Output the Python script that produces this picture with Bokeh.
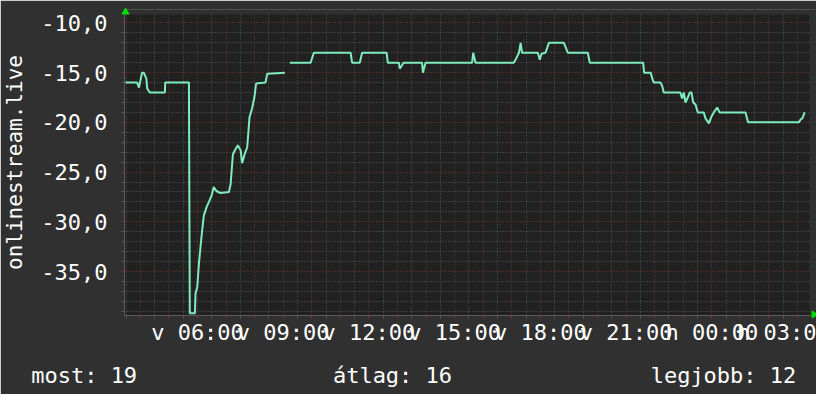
import math
from bokeh.plotting import figure
from bokeh.models import FixedTicker, BoxAnnotation, LinearAxis, Range1d
from bokeh.embed import file_html
from bokeh.resources import INLINE

NaN = float("nan")

# time in hours since Sunday 00:00, signal in dBm
hours = [3.48, 3.89, 3.95, 4.06, 4.12, 4.21, 4.24, 4.33, 4.86, 4.87, 5.70, 5.73,
         5.91, 5.93, 5.99, 6.05, 6.14, 6.22, 6.32, 6.40, 6.49, 6.57, 6.66, 6.80,
         7.10, 7.16, 7.24, 7.33, 7.41, 7.51, 7.56, 7.65, 7.74, 7.82, 7.91, 7.99,
         8.05, 8.38, 8.44, 9.06, 9.10,
         9.23, 9.96, 10.07, 11.36, 11.41, 11.68, 11.76, 12.62, 12.66, 13.05, 13.08,
         13.17, 13.21, 13.86, 13.89, 13.98, 15.61, 15.65, 15.73, 17.07, 17.15,
         17.25, 17.31, 17.36, 17.91, 17.98, 18.04, 18.18, 18.30, 18.82, 18.88,
         18.96, 19.66, 19.73, 21.60, 21.63, 21.86, 21.92, 21.97, 22.20, 22.26,
         22.32, 22.90, 22.96, 23.02, 23.08, 23.16, 23.23, 23.29, 23.35, 23.43,
         23.51, 23.72, 23.78, 23.90, 23.99, 24.07, 24.19, 24.27, 25.18, 25.27,
         27.05, 27.11, 27.17, 27.25]
signal = [-16, -16, -16.5, -15, -15, -15.6, -16.6, -17, -17, -16, -16, -39.2,
          -39.2, -37.2, -36.6, -34.2, -31.5, -29.4, -28.5, -28.0, -27.4, -26.5, -26.9, -27.1,
          -27, -26.2, -23.2, -22.7, -22.3, -22.8, -24.1, -23.2, -22.5, -19.5, -18.6, -17.5,
          -16.1, -16, -15.1, -15, NaN,
          -14, -14, -13, -13, -14, -14, -13, -13, -14, -14, -14.6,
          -14.2, -14, -14, -15, -14, -14, -13, -14, -14, -13.6,
          -13, -12, -13, -13, -13.7, -13.1, -13, -12, -12, -12.4,
          -13, -13, -14, -14, -15, -15, -15.6, -16, -16, -16.3,
          -17, -17, -17.6, -17, -18, -17.5, -17, -17, -18, -18.2,
          -19, -19, -19.6, -20.1, -19.4, -19, -18.5, -19, -19, -20,
          -20, -19.7, -19.6, -19]

x_label_ticks = [6, 9, 12, 15, 18, 21, 24, 27]
# the last label is cut by the right edge of the picture in the original
x_tick_labels = ["v 06:00", "v 09:00", "v 12:00", "v 15:00", "v 18:00",
                 "v 21:00", "h 00:00", "h 03:0"]
y_label_ticks = [-35, -30, -25, -20, -15, -10]
y_tick_labels = ["-35,0", "-30,0", "-25,0", "-20,0", "-15,0", "-10,0"]
legend_names = ["most", "átlag", "legjobb"]
legend_values = [19, 16, 12]
y_title = "onlinestream.live"

# visible graph window
G_X0, G_X1 = 3.445, 27.42
G_Y0, G_Y1 = -39.42, -9.15
# frame is a little larger (room for the axis arrows)
X0, X1 = G_X0, 27.665
Y0, Y1 = G_Y0, -8.65

FONT = "DejaVu Sans Mono"
FS = "22px"
BG = "#303030"
PLOT_BG = "#212121"
LINE = "#7eecbc"
MAJOR = "#7a3434"
MINOR = "#585858"
GREEN = "#00dd00"

W, H = 816, 394
FL, FT, FB = 124, 9, 315   # frame edges in canvas pixels

p = figure(width=W, height=H, x_range=(X0, X1), y_range=(Y0, Y1),
           output_backend="svg", toolbar_location=None,
           min_border_left=FL, min_border_right=0, min_border_top=FT,
           min_border_bottom=H - FB)
p.background_fill_color = PLOT_BG
p.border_fill_color = BG
p.outline_line_color = None

hourly = list(range(4, 28))
half_hourly = [h + 0.5 for h in range(3, 27)]
y_minor = [v for v in range(-39, -9) if v % 5 != 0]
xt = FixedTicker(ticks=hourly, minor_ticks=half_hourly)
yt = FixedTicker(ticks=y_label_ticks, minor_ticks=y_minor)
p.xaxis.ticker = xt
p.yaxis.ticker = yt
p.xgrid.ticker = xt
p.ygrid.ticker = yt

xo = {h: "" for h in hourly}
for t, lab in zip(x_label_ticks, x_tick_labels):
    xo[t] = lab
p.xaxis.major_label_overrides = xo
p.yaxis.major_label_overrides = dict(zip(y_label_ticks, y_tick_labels))

for g in (p.xgrid, p.ygrid):
    g.grid_line_color = MAJOR
    g.grid_line_dash = "1 2"
    g.grid_line_width = 1
    g.minor_grid_line_color = MINOR
    g.minor_grid_line_dash = "1 2"
    g.minor_grid_line_width = 1

def style_axis(ax):
    ax.axis_line_color = None
    ax.major_tick_line_color = MAJOR
    ax.minor_tick_line_color = MINOR
    ax.major_tick_in = 0
    ax.major_tick_out = 3
    ax.minor_tick_in = 0
    ax.minor_tick_out = 3
    ax.major_label_text_font = FONT
    ax.major_label_text_font_size = FS
    ax.major_label_text_color = "#ffffff"
    ax.axis_label_text_font = FONT
    ax.axis_label_text_font_size = "21px"
    ax.axis_label_text_font_style = "normal"
    ax.axis_label_text_color = "#ffffff"

for ax in (p.xaxis[0], p.yaxis[0]):
    style_axis(ax)

p.xaxis.major_label_standoff = 1
p.yaxis.major_label_standoff = 14
p.yaxis.axis_label = y_title
p.yaxis.axis_label_standoff = 11

# background strips outside the graph window (top and right)
p.add_layout(BoxAnnotation(bottom=G_Y1, fill_color=BG, fill_alpha=1, line_color=None,
                           level="underlay"))
p.add_layout(BoxAnnotation(left=G_X1, fill_color=BG, fill_alpha=1, line_color=None,
                           level="underlay"))

p.line(hours, signal, line_color=LINE, line_width=2)

# axis arrows
p.scatter([G_X0 + 0.035], [Y1 - 0.25], marker="triangle", size=7,
          color=GREEN, level="overlay")
p.scatter([G_X1 + 0.16], [G_Y0 + 0.1], marker="triangle", size=7, angle=-math.pi / 2,
          color=GREEN, level="overlay")

# legend row under the chart: labels of a bare axis on a pixel range
p.extra_x_ranges = {"px": Range1d(FL, W)}
legend_texts = [f"{n}: {v}" for n, v in zip(legend_names, legend_values)]
legend_texts[0] = legend_texts[0] + "\u00a0" * 7   # keeps its centre inside the frame
legend_centres = [130, 392, 723]
leg_axis = LinearAxis(x_range_name="px",
                      ticker=FixedTicker(ticks=legend_centres, minor_ticks=[]),
                      major_label_overrides=dict(zip(legend_centres, legend_texts)))
style_axis(leg_axis)
leg_axis.major_tick_out = 0
leg_axis.major_tick_line_color = None
leg_axis.minor_tick_line_color = None
leg_axis.major_label_standoff = 15
p.add_layout(leg_axis, "below")

open("out.html", "w").write(file_html(p, INLINE))
